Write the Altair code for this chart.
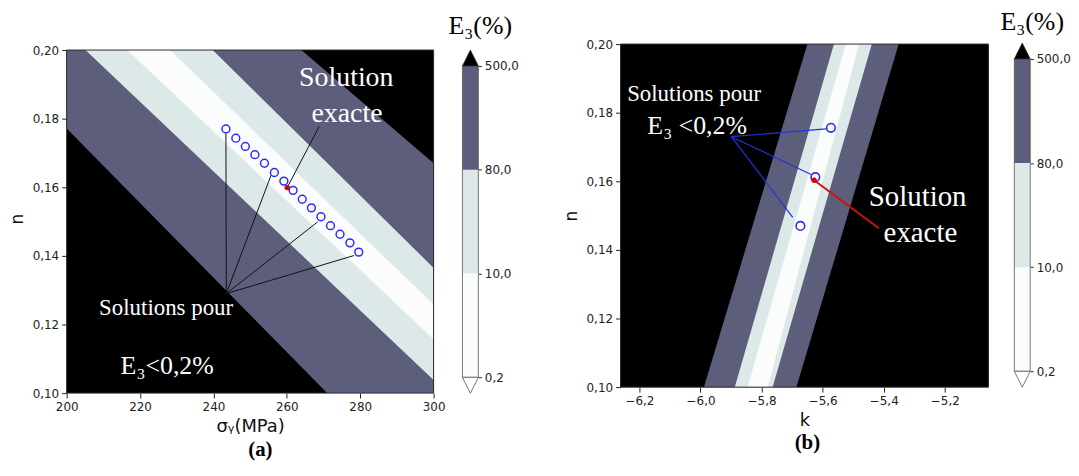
import altair as alt
import pandas as pd

# ---------------- colours / fonts ----------------
C_SLATE = "#5d5e7b"
C_LIGHT = "#dde9e8"
C_WHITE = "#fbfdfd"
C_FRAME = "#2b2b2b"
C_BLUE = "#2a2aff"
C_LINEB = "#2233dd"
C_RED = "#e00000"
SERIF = "Liberation Serif"
SANS = "DejaVu Sans"

# ---------------- panel (a): sigma_Y vs n ----------------
a_x_ticks = [200, 220, 240, 260, 280, 300]
n_ticks = [0.10, 0.12, 0.14, 0.16, 0.18, 0.20]
a_x_range = [200, 300]
n_range = [0.10, 0.20]

# band edges: n read where each edge meets sigma = 200 and sigma = 300
a_edge_x = [200, 300]
a_slate_lo = [0.1771, 0.0685]
a_slate_hi = [0.2586, 0.1670]
a_light_lo = [0.2052, 0.1038]
a_light_hi = [0.2420, 0.1365]
a_white_lo = [0.2167, 0.1157]
a_white_hi = [0.2291, 0.1258]

a_sol_x = [243.4, 246.1, 248.7, 251.3, 253.9, 256.6, 259.2, 261.7, 264.2,
           266.7, 269.3, 271.9, 274.5, 277.2, 279.6]
a_sol_n = [0.1770, 0.1743, 0.1719, 0.1695, 0.1670, 0.1643, 0.1618, 0.1591,
           0.1565, 0.1540, 0.1514, 0.1488, 0.1463, 0.1438, 0.1411]
a_exact_x = [260.1]
a_exact_n = [0.1599]
a_hub = (243.5, 0.129)
a_lead_x = [243.4, 255.7, 268.4, 278.3]
a_lead_n = [0.1757, 0.1635, 0.1499, 0.1401]
a_exact_lead = (268.8, 0.1777)

# ---------------- panel (b): k vs n ----------------
b_x_ticks = [-6.2, -6.0, -5.8, -5.6, -5.4, -5.2]
b_x_range = [-6.262, -5.057]
# band edges: k read where each edge meets n = 0.10 and n = 0.20
b_edge_n = [0.10, 0.20]
b_slate_lo = [-5.989, -5.650]
b_slate_hi = [-5.686, -5.351]
b_light_lo = [-5.888, -5.563]
b_light_hi = [-5.764, -5.439]
b_white_lo = [-5.846, -5.524]
b_white_hi = [-5.780, -5.481]

b_sol_x = [-5.573, -5.624, -5.673]
b_sol_n = [0.1756, 0.1612, 0.1470]
b_exact_x = [-5.628]
b_exact_n = [0.1603]
b_hub = (-5.899, 0.173)
b_lead_x = [-5.589, -5.638, -5.698]
b_lead_n = [0.1753, 0.1620, 0.1495]
b_exact_lead = (-5.416, 0.1463)

# ---------------- colour bar ----------------
cb_labels = ["0,2", "10,0", "80,0", "500,0"]
cb_seg_lo = [0, 1, 2]
cb_seg_hi = [1, 2, 3]
cb_seg_key = ["low", "mid", "high"]

# ---------------- annotations (data coordinates) ----------------
a_txt_big = {"x": [276.2, 276.4], "y": [0.1919, 0.1814], "t": ["Solution", "exacte"]}
a_txt_sol = {"x": [227.1], "y": [0.1249], "t": ["Solutions pour"]}
a_txt_e3 = {"x": [227.4], "y": [0.1078], "t": ["E₃<0,2%"]}
a_tag = {"x": [252.8], "y": [0.0835], "t": ["(a)"]}

b_txt_big = {"x": [-5.289, -5.280], "y": [0.1554, 0.1449], "t": ["Solution", "exacte"]}
b_txt_sol = {"x": [-6.021], "y": [0.1855], "t": ["Solutions pour"]}
b_txt_e3 = {"x": [-6.011], "y": [0.1762], "t": ["E₃ <0,2%"]}
b_tag = {"x": [-5.650], "y": [0.0838], "t": ["(b)"]}

# view geometry
A_Y_TOP = 0.20174      # panel (a) view reaches 6 px above n = 0.20
A_MASK_TOP = 0.2035    # white cover above n = 0.20 (beyond the view top)
A_W, A_H = 369, 351
B_W, B_H = 370, 345
CB_W = 16


def lab_expr(fmt):
    return "replace(format(datum.value, '%s'), '.', ',')" % fmt


Y_AXIS = alt.Axis(values=n_ticks, labelExpr=lab_expr(".2f"), title="n",
                  domain=False, grid=False, tickSize=5, labelPadding=3,
                  titlePadding=6, labelFontSize=12, titleFontSize=17,
                  titleFontWeight="normal")


def x_axis(vals, fmt, title):
    return alt.Axis(values=vals, labelExpr=lab_expr(fmt), title=title,
                    domain=False, grid=False, tickSize=5, labelPadding=3,
                    labelFlush=False, titlePadding=6, labelFontSize=12,
                    titleFontSize=18, titleFontWeight="normal")


class Pos:
    def __init__(self, xs, ys, xax, yax):
        self.xs, self.ys, self.xax, self.yax = xs, ys, xax, yax

    def X(self, f):
        return alt.X(f, type="quantitative", scale=self.xs, axis=self.xax)

    def Y(self, f):
        return alt.Y(f, type="quantitative", scale=self.ys, axis=self.yax)


def texts(d, P, size, color="white", weight="normal"):
    return alt.Chart(pd.DataFrame(d)).mark_text(
        font=SERIF, fontSize=size, color=color, fontWeight=weight,
        align="center", baseline="middle"
    ).encode(x=P.X("x"), y=P.Y("y"), text="t:N")


def rules(P, hub, xs2, ys2, color, width):
    df = pd.DataFrame({"x": [hub[0]] * len(xs2), "y": [hub[1]] * len(xs2),
                       "x2": xs2, "y2": ys2})
    return alt.Chart(df).mark_rule(color=color, strokeWidth=width).encode(
        x=P.X("x"), y=P.Y("y"), x2="x2:Q", y2="y2:Q")


def circles(P, xs, ys, size, width):
    return alt.Chart(pd.DataFrame({"x": xs, "y": ys})).mark_point(
        shape="circle", filled=False, color=C_BLUE, size=size, strokeWidth=width, opacity=1
    ).encode(x=P.X("x"), y=P.Y("y"))


def dot(P, xs, ys):
    return alt.Chart(pd.DataFrame({"x": xs, "y": ys})).mark_point(
        shape="circle", filled=True, color=C_RED, size=30, opacity=1
    ).encode(x=P.X("x"), y=P.Y("y"))


def rect(P, df, **kw):
    return alt.Chart(df).mark_rect(**kw).encode(
        x=P.X("x"), x2="x2:Q", y=P.Y("y"), y2="y2:Q")


# ======================= panel (a) =======================
PA = Pos(alt.Scale(domain=a_x_range, nice=False, zero=False),
         alt.Scale(domain=[n_range[0], A_Y_TOP], nice=False, zero=False),
         x_axis(a_x_ticks, ".0f", "σᵧ(MPa)"), Y_AXIS)

frame_a = pd.DataFrame({"x": [a_x_range[0]], "x2": [a_x_range[1]],
                        "y": [n_range[0]], "y2": [n_range[1]]})
mask_a = pd.DataFrame({"x": [a_x_range[0]], "x2": [a_x_range[1]],
                       "y": [n_range[1]], "y2": [A_MASK_TOP]})


def band_a(lo, hi, color):
    df = pd.DataFrame({"x": a_edge_x, "lo": lo, "hi": hi})
    return alt.Chart(df).mark_area(color=color, clip=True, opacity=1).encode(
        x=PA.X("x"), y=PA.Y("lo"), y2="hi:Q")


plot_a = alt.layer(
    rect(PA, frame_a, color="black"),
    band_a(a_slate_lo, a_slate_hi, C_SLATE),
    band_a(a_light_lo, a_light_hi, C_LIGHT),
    band_a(a_white_lo, a_white_hi, C_WHITE),
    rect(PA, mask_a, color="white"),
    rules(PA, a_hub, a_lead_x, a_lead_n, "#111", 1),
    rules(PA, (a_exact_x[0], a_exact_n[0]), [a_exact_lead[0]], [a_exact_lead[1]], "#111", 1),
    circles(PA, a_sol_x, a_sol_n, 62, 1.5),
    dot(PA, a_exact_x, a_exact_n),
    texts(a_txt_big, PA, 28),
    texts(a_txt_sol, PA, 23),
    texts(a_txt_e3, PA, 26),
    texts(a_tag, PA, 21, color="black", weight="bold"),
    rect(PA, frame_a, fillOpacity=0, stroke=C_FRAME, strokeWidth=1),
).properties(width=A_W, height=A_H)

# ======================= panel (b) =======================
PB = Pos(alt.Scale(domain=b_x_range, nice=False, zero=False),
         alt.Scale(domain=n_range, nice=False, zero=False),
         x_axis(b_x_ticks, ".1f", "k"), Y_AXIS)

frame_b = pd.DataFrame({"x": [b_x_range[0]], "x2": [b_x_range[1]],
                        "y": [n_range[0]], "y2": [n_range[1]]})


def band_b(lo, hi, color):
    df = pd.DataFrame({"n": b_edge_n, "lo": lo, "hi": hi})
    return alt.Chart(df).mark_area(color=color, clip=True, orient="horizontal", opacity=1).encode(
        y=PB.Y("n"), x=PB.X("lo"), x2="hi:Q")


plot_b = alt.layer(
    rect(PB, frame_b, color="black"),
    band_b(b_slate_lo, b_slate_hi, C_SLATE),
    band_b(b_light_lo, b_light_hi, C_LIGHT),
    band_b(b_white_lo, b_white_hi, C_WHITE),
    rules(PB, b_hub, b_lead_x, b_lead_n, C_LINEB, 1.2),
    rules(PB, (b_exact_x[0], b_exact_n[0]), [b_exact_lead[0]], [b_exact_lead[1]], "#cc1111", 2),
    circles(PB, b_sol_x, b_sol_n, 75, 1.6),
    dot(PB, b_exact_x, b_exact_n),
    texts(b_txt_big, PB, 29),
    texts(b_txt_sol, PB, 23),
    texts(b_txt_e3, PB, 26),
    texts(b_tag, PB, 21, color="black", weight="bold"),
    rect(PB, frame_b, fillOpacity=0, stroke=C_FRAME, strokeWidth=1),
).properties(width=B_W, height=B_H)


# ======================= colour bars =======================
def colorbar(ydom, h, title_pos):
    ys = alt.Scale(domain=ydom, nice=False, zero=False)
    label_expr = "[" + ",".join("'%s'" % s for s in cb_labels) + "][datum.value]"
    ax = alt.Axis(orient="right", values=[0, 1, 2, 3], labelExpr=label_expr,
                  tickSize=3, labelPadding=3, domain=False, grid=False,
                  title=None, labelFontSize=12)

    def Y(f):
        return alt.Y(f, type="quantitative", scale=ys, axis=ax)

    seg = pd.DataFrame({"lo": cb_seg_lo, "hi": cb_seg_hi, "k": cb_seg_key})
    rects = alt.Chart(seg).mark_rect(opacity=1).encode(
        y=Y("lo"), y2="hi:Q",
        color=alt.Color("k:N", scale=alt.Scale(domain=cb_seg_key,
                                               range=[C_WHITE, C_LIGHT, C_SLATE]),
                        legend=None))
    outline = alt.Chart(pd.DataFrame({"lo": [cb_seg_lo[0]], "hi": [cb_seg_hi[-1]]})).mark_rect(
        fillOpacity=0, stroke="#555", strokeWidth=0.8).encode(y=Y("lo"), y2="hi:Q")
    top = alt.Chart(pd.DataFrame({"p": [cb_seg_hi[-1]]})).mark_point(
        shape="M -1 0 L 0 -2 L 1 0 Z", size=CB_W * CB_W, filled=True,
        fill="black", stroke="#333", strokeWidth=0.8, opacity=1).encode(y=Y("p"))
    bot = alt.Chart(pd.DataFrame({"p": [cb_seg_lo[0]]})).mark_point(
        shape="M -1 0 L 0 2 L 1 0 Z", size=CB_W * CB_W, filled=True,
        fill="white", stroke="#555", strokeWidth=0.8, opacity=1).encode(y=Y("p"))
    ttl = alt.Chart(pd.DataFrame({"p": [title_pos], "t": ["E₃(%)"]})).mark_text(
        font=SERIF, fontSize=26, dx=10, baseline="middle", color="black").encode(
        y=Y("p"), text="t:N")
    return alt.layer(rects, outline, top, bot, ttl).properties(width=CB_W, height=h)


cbar_a = colorbar([-0.2, 3.211], 356, 3.383)
cbar_b = colorbar([-0.2, 3.143], 350, 3.353)

left = alt.hconcat(plot_a, cbar_a, spacing=3)
right = alt.hconcat(plot_b, cbar_b, spacing=11)

chart = alt.hconcat(left, right, spacing=43).properties(
    padding={"left": 0, "top": 0, "right": 0, "bottom": 0}
).configure_view(strokeWidth=0).configure_axis(
    labelFont=SANS, titleFont=SANS, labelColor="#222", tickColor="#222",
    titleColor="#111"
)

chart.save("out.html", embed_options={"renderer": "svg", "actions": False})
